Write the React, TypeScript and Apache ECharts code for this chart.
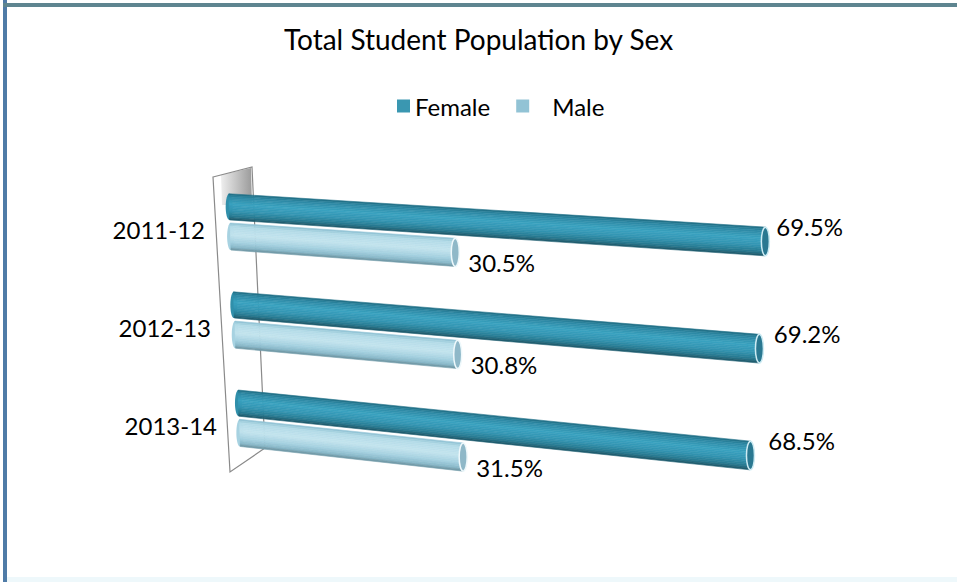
import React, { useEffect, useRef } from "react";
import * as echarts from "echarts";

const categories = ["2011-12", "2012-13", "2013-14"];
const femaleValues = [69.5, 69.2, 68.5];
const maleValues = [30.5, 30.8, 31.5];
const seriesNames = ["Female", "Male"];
const titleText = "Total Student Population by Sex";

const FONT = "Lato, 'Open Sans', sans-serif";

type Stop = [number, string];
const femaleStops: Stop[] = [
  [0, "#1f6a80"],
  [0.12, "#2d88a3"],
  [0.4, "#3aa2c0"],
  [0.65, "#3395b2"],
  [0.88, "#27798f"],
  [1, "#1d5565"],
];
const maleStops: Stop[] = [
  [0, "#8cbfd1"],
  [0.15, "#b4dbe8"],
  [0.45, "#c3e4ee"],
  [0.72, "#a5d1e0"],
  [0.9, "#88b8c9"],
  [1, "#6a8f9c"],
];

function hexToRgb(h: string) {
  const n = parseInt(h.slice(1), 16);
  return [(n >> 16) & 255, (n >> 8) & 255, n & 255];
}
function lerpColor(stops: Stop[], t: number) {
  for (let k = 0; k < stops.length - 1; k++) {
    const [t0, c0] = stops[k];
    const [t1, c1] = stops[k + 1];
    if (t >= t0 && t <= t1) {
      const f = (t - t0) / (t1 - t0 || 1);
      const a = hexToRgb(c0);
      const b = hexToRgb(c1);
      const r = a.map((v, i) => Math.round(v + (b[i] - v) * f));
      return `rgb(${r[0]},${r[1]},${r[2]})`;
    }
  }
  return stops[stops.length - 1][1];
}

function makeRenderItem(stops: Stop[], fTop: number, fBot: number, isFemale: boolean) {
  return (params: any, api: any) => {
    const i = api.value(0);
    const v = api.value(1);
    const cs = params.coordSys;
    const base = api.coord([0, i]);
    const end = api.coord([v, i]);
    const band = api.size([0, 1])[1];
    const cy = base[1];
    const top = cy + band * fTop;
    const bot = cy + band * fBot;
    const W = (x: number, y: number) => {
      const d = y - cs.y;
      const dx = x - cs.x;
      return [cs.x + 0.03 * d + dx * (1 - 0.00012 * d), y + dx * (0.06 + 0.00018 * d)];
    };
    const dMid = (top + bot) / 2 - cs.y;
    const xL = cs.x + 16 + 0.02 * dMid;
    const xR = end[0];
    const N = 16;
    const children: any[] = [];
    const lt = W(xL, top);
    const lb = W(xL, bot);
    children.push({
      type: "ellipse",
      shape: { cx: (lt[0] + lb[0]) / 2, cy: (lt[1] + lb[1]) / 2, rx: 3.5, ry: (lb[1] - lt[1]) / 2 },
      style: { fill: lerpColor(stops, 0.7) },
    });
    for (let j = 0; j < N; j++) {
      const t0 = j / N;
      const t1 = (j + 1) / N;
      const y0 = top + (bot - top) * t0;
      const y1 = top + (bot - top) * t1;
      const col = lerpColor(stops, (t0 + t1) / 2);
      children.push({
        type: "polygon",
        shape: { points: [W(xL, y0), W(xR, y0), W(xR, y1), W(xL, y1)] },
        style: { fill: col, stroke: col, lineWidth: 0.6 },
      });
    }
    const rt = W(xR, top);
    const rb = W(xR, bot);
    children.push({
      type: "ellipse",
      shape: { cx: (rt[0] + rb[0]) / 2, cy: (rt[1] + rb[1]) / 2, rx: 4, ry: (rb[1] - rt[1]) / 2 },
      style: {
        fill: isFemale ? "#2a7891" : "#8fb8c8",
        stroke: isFemale ? "#cdebf3" : "#eef8fb",
        lineWidth: 1.5,
      },
    });
    const lx = xR + (isFemale ? 10 : 13);
    const ly = isFemale ? rt[1] - 1 : rb[1] - 4;
    children.push({
      type: "text",
      style: {
        text: v.toFixed(1) + "%",
        x: lx,
        y: ly,
        fill: "#000",
        font: `24px ${FONT}`,
        align: "left",
        verticalAlign: "middle",
      },
    });
    return { type: "group", children };
  };
}

export default function App() {
  const ref = useRef<HTMLDivElement>(null);
  useEffect(() => {
    document.body.style.margin = "0";
    if (!ref.current) return;
    const chart = echarts.init(ref.current, null, { renderer: "svg" });
    const option: any = {
      animation: false,
      backgroundColor: "#ffffff",
      title: {
        text: titleText,
        left: "center",
        top: 20,
        textStyle: { fontFamily: FONT, fontSize: 28, fontWeight: "normal", color: "#000" },
      },
      legend: {
        left: 392,
        top: 89,
        icon: "rect",
        itemWidth: 13,
        itemHeight: 13,
        itemGap: 26,
        textStyle: { fontFamily: FONT, fontSize: 24, color: "#000" },
        data: [
          { name: seriesNames[0] },
          { name: seriesNames[1], textStyle: { padding: [0, 0, 0, 18] } },
        ],
      },
      grid: { left: 212, right: 107, top: 181, bottom: 108 },
      xAxis: { type: "value", min: 0, max: 80, show: false },
      yAxis: {
        type: "category",
        data: categories,
        inverse: true,
        axisLine: { show: false },
        axisTick: { show: false },
        axisLabel: {
          margin: -6,
          fontFamily: FONT,
          fontSize: 24,
          color: "#000",
          formatter: (val: string, idx: number) => `{r${idx}|${val}}`,
          rich: {
            r0: { fontFamily: FONT, fontSize: 24, color: "#000", padding: [0, 13, 0, 0] },
            r1: { fontFamily: FONT, fontSize: 24, color: "#000", padding: [0, 7, 0, 0] },
            r2: { fontFamily: FONT, fontSize: 24, color: "#000", padding: [0, 1, 0, 0] },
          },
        },
      },
      graphic: [
        { type: "rect", z: 0, shape: { x: 3, y: 0, width: 4, height: 582 }, style: { fill: "#4f7ba7" } },
        { type: "rect", z: 0, shape: { x: 3, y: 3, width: 954, height: 4 }, style: { fill: "#5e8590" } },
        { type: "rect", z: 0, shape: { x: 7, y: 577, width: 950, height: 5 }, style: { fill: "#eef8fb" } },
        {
          type: "polygon",
          z: 0,
          shape: { points: [[221, 175], [251, 168], [252, 205], [222, 205]] },
          style: {
            fill: new echarts.graphic.LinearGradient(0, 0, 1, 0, [
              { offset: 0, color: "#eeeeee" },
              { offset: 1, color: "#9a9a9a" },
            ]),
          },
        },
        {
          type: "polygon",
          z: 0,
          shape: { points: [[213, 177], [252, 167], [265, 448], [230, 472]] },
          style: { fill: "none", stroke: "#8a8a8a", lineWidth: 1.2 },
        },
      ],
      series: [
        {
          name: seriesNames[0],
          type: "custom",
          z: 5,
          clip: false,
          itemStyle: { color: "#3a97b1" },
          encode: { x: 1, y: 0 },
          data: femaleValues.map((v, i) => [i, v]),
          renderItem: makeRenderItem(femaleStops, -0.38, -0.113, true),
        },
        {
          name: seriesNames[1],
          type: "custom",
          z: 6,
          clip: false,
          itemStyle: { color: "#92c3d5" },
          encode: { x: 1, y: 0 },
          data: maleValues.map((v, i) => [i, v]),
          renderItem: makeRenderItem(maleStops, -0.082, 0.195, false),
        },
      ],
    };
    chart.setOption(option);
    return () => chart.dispose();
  }, []);
  return <div ref={ref} style={{ width: 957, height: 582 }} />;
}
